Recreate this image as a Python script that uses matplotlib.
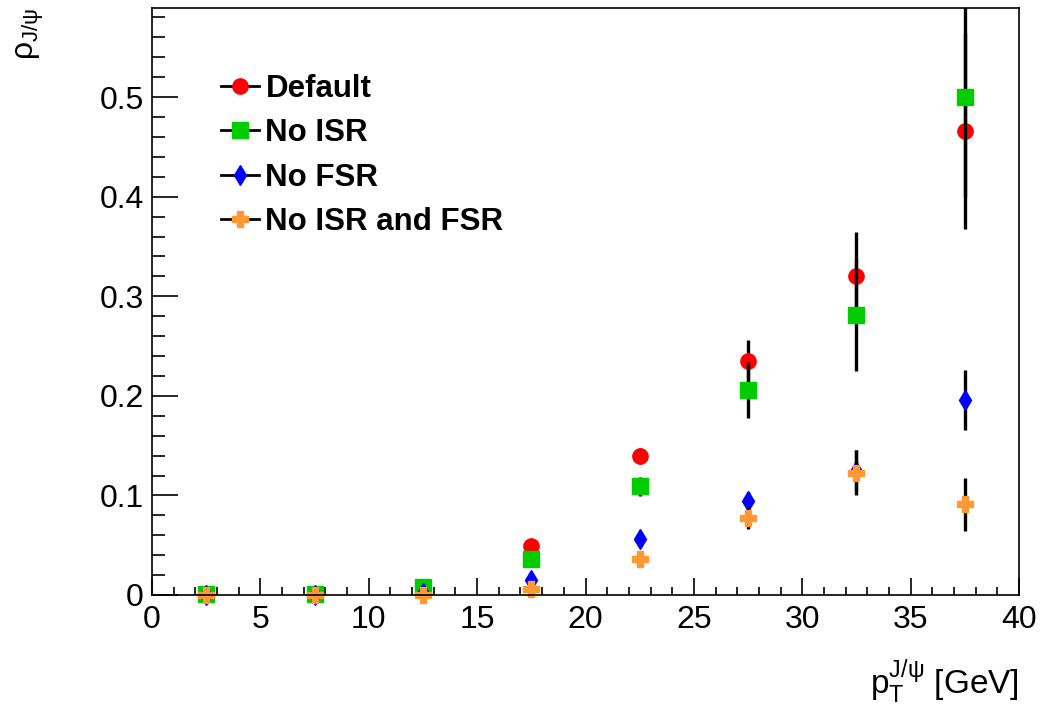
import matplotlib
matplotlib.use("Agg")
import matplotlib.pyplot as plt
from matplotlib.lines import Line2D
from matplotlib.ticker import MultipleLocator, FuncFormatter

# pT bin centres [GeV]
pt = [2.5, 7.5, 12.5, 17.5, 22.5, 27.5, 32.5, 37.5]

# rho_J/psi for each generator setting, with errors
default = [0.001, 0.001, 0.008, 0.049, 0.140, 0.235, 0.320, 0.466]
default_err = [0.0005, 0.0005, 0.002, 0.004, 0.008, 0.021, 0.045, 0.098]
no_isr = [0.001, 0.001, 0.008, 0.036, 0.109, 0.206, 0.281, 0.500]
no_isr_err = [0.0005, 0.0005, 0.002, 0.004, 0.010, 0.028, 0.056, 0.100]
no_fsr = [0.0005, 0.0005, 0.002, 0.015, 0.056, 0.094, 0.125, 0.196]
no_fsr_err = [0.0003, 0.0003, 0.001, 0.003, 0.005, 0.009, 0.021, 0.030]
no_both = [0.0005, 0.0005, 0.0005, 0.006, 0.036, 0.077, 0.123, 0.091]
no_both_err = [0.0003, 0.0003, 0.0005, 0.003, 0.004, 0.011, 0.023, 0.027]

labels = ["Default", "No ISR", "No FSR", "No ISR and FSR"]

plt.rcParams['font.family'] = ['Liberation Sans', 'DejaVu Sans']
plt.rcParams['mathtext.fontset'] = 'custom'
plt.rcParams['mathtext.rm'] = 'Liberation Sans'
plt.rcParams['mathtext.it'] = 'Liberation Sans:italic'

fig = plt.figure(figsize=(10.49, 7.08), dpi=100)
ax = fig.add_axes([152/1049, 1 - 595/708, 867/1049, 587/708])

series = [
    (default, default_err, 'o', '#ff0000', 11),
    (no_isr, no_isr_err, 's', '#00cc00', 11),
    (no_fsr, no_fsr_err, 'd', '#0000ff', 10),
    (no_both, no_both_err, 'P', '#ff9933', 11),
]

handles = []
for vals, errs, mk, col, ms in series:
    # error bars are clipped to the frame, markers are not (like ROOT)
    ax.errorbar(pt, vals, yerr=errs, fmt='none', ecolor='black',
                elinewidth=2.4, capsize=0)
    ax.plot(pt, vals, linestyle='none', marker=mk, color=col, mec=col,
            ms=ms, clip_on=False)
    handles.append(Line2D([], [], color='black', lw=2, marker=mk,
                          mfc=col, mec=col, ms=ms))

ax.set_xlim(0, 40)
ax.set_ylim(0, 0.5895)

ax.xaxis.set_major_locator(MultipleLocator(5))
ax.xaxis.set_minor_locator(MultipleLocator(1))
ax.yaxis.set_major_locator(MultipleLocator(0.1))
ax.yaxis.set_minor_locator(MultipleLocator(0.02))
ax.yaxis.set_major_formatter(FuncFormatter(
    lambda v, p: '0' if abs(v) < 1e-9 else f'{v:g}'))

ax.tick_params(axis='both', which='both', direction='in', labelsize=23,
               width=1.2, top=False, right=False)
ax.tick_params(axis='x', which='major', length=12.5, pad=7)
ax.tick_params(axis='x', which='minor', length=6)
ax.tick_params(axis='y', which='major', length=19, pad=6)
ax.tick_params(axis='y', which='minor', length=9.5)
for s in ax.spines.values():
    s.set_linewidth(1.2)

ax.set_xlabel(r'$\mathrm{p}_{\mathrm{T}}^{\mathrm{J/\psi}}$ [GeV]', fontsize=24)
ax.xaxis.set_label_coords(1.0, -0.1687)
ax.xaxis.label.set_horizontalalignment('right')
ax.xaxis.label.set_verticalalignment('baseline')
ax.set_ylabel(r'$\mathrm{\rho}_{\mathrm{J/\psi}}$', fontsize=23)
ax.yaxis.set_label_coords(-0.158, 1.0)
ax.yaxis.label.set_verticalalignment('top')
ax.yaxis.label.set_horizontalalignment('right')

leg = ax.legend(handles, labels, loc='upper left',
                bbox_to_anchor=(221/1049, 1 - 74/708),
                bbox_transform=fig.transFigure, frameon=False,
                prop={'weight': 'bold', 'size': 22.5}, borderpad=0,
                borderaxespad=0, handlelength=1.2, handletextpad=0.22,
                labelspacing=0.46)

fig.savefig('out.png', dpi=100)
